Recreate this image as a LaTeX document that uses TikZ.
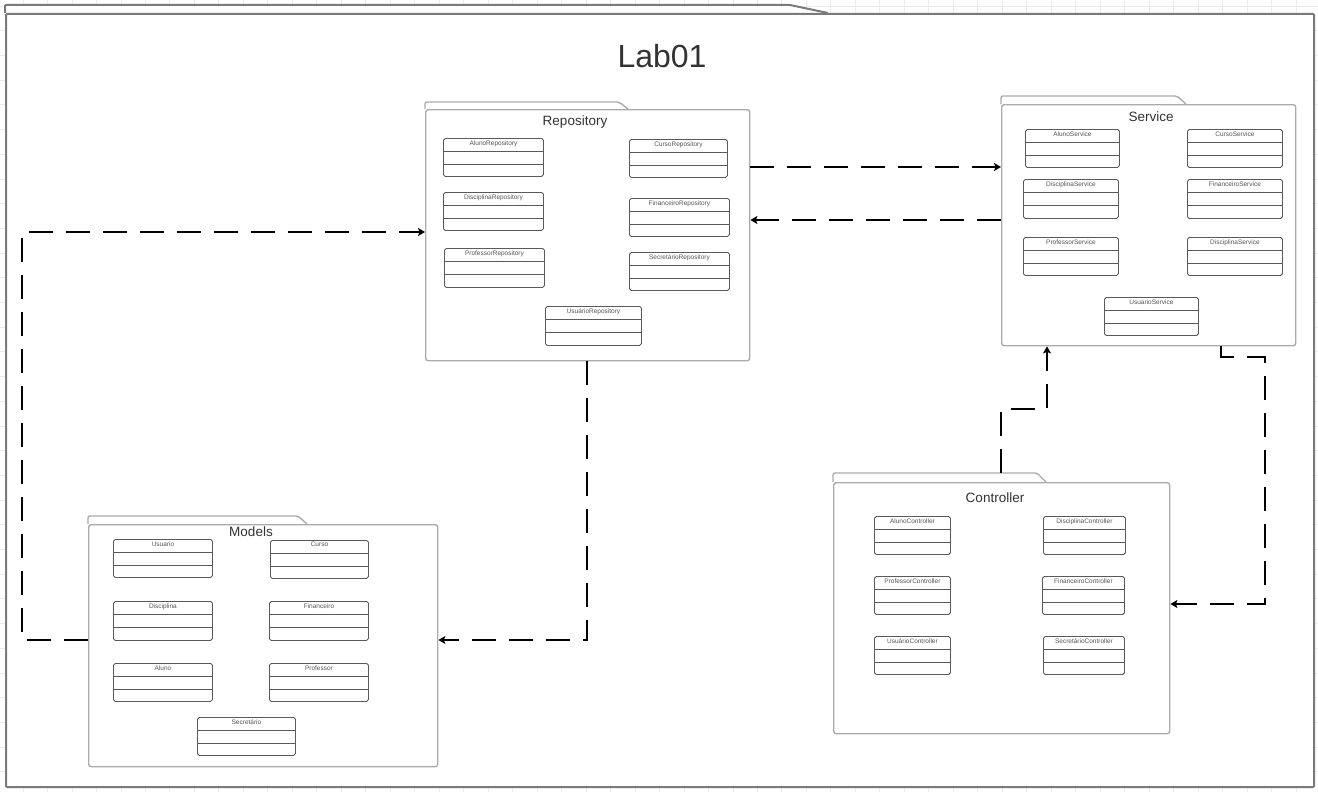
\documentclass[tikz,border=0pt]{standalone}
\usepackage{fontspec}
\setmainfont{Liberation Sans}
\usetikzlibrary{arrows.meta,calc}
\definecolor{gridc}{HTML}{EBEBEB}
\definecolor{framec}{HTML}{7A7A7A}
\definecolor{pkgc}{HTML}{ABABAB}
\definecolor{clsc}{HTML}{5A5A5A}
\definecolor{titlec}{HTML}{333333}
\definecolor{clstextc}{HTML}{555555}

\newcommand\pkgdraw[9]{% name, x1, ytab, xt, ybody, x2, y2, title, title pos
  \draw[pkgline, fill=white, rounded corners=2] (#2,#5) -- (#2,#3) -- (#4,#3) -- ({#4+9},#5);
  \node[pkgbox, minimum width={#6-#2}, minimum height={#7-#5}, anchor=north west] (#1) at (#2,#5) {};
  \coordinate (#1-tab) at (#2,#3);
  \node[pkgtitle] (#1-title) at (#9) {#8};
}
\newcommand\clsdraw[6]{% name, x1, y1, x2, y2, label
  \node[clsbox, minimum width={#4-#2}, minimum height={#5-#3}, anchor=north west] (#1) at (#2,#3) {};
  \node[clstext, anchor=north] (#1-name) at ([yshift=-2.2]#1.north) {#6};
  \draw[clsline] ([yshift=-13]#1.north west) -- ([yshift=-13]#1.north east);
  \draw[clsline] ([yshift=-26]#1.north west) -- ([yshift=-26]#1.north east);
}

\begin{document}
\begin{tikzpicture}[x=1pt,y=-1pt,
  gridline/.style={gridc, line width=0.8},
  outerbox/.style={draw=framec, line width=2, fill=white, inner sep=0, rounded corners=1},
  pkgline/.style={draw=pkgc, line width=1.4},
  pkgbox/.style={draw=pkgc, line width=1.4, fill=white, inner sep=0, rounded corners=2.5},
  pkgtitle/.style={text=titlec, font=\fontsize{13.5}{15}\selectfont, inner sep=0},
  clsbox/.style={draw=clsc, line width=0.9, fill=white, inner sep=0, rounded corners=1.8},
  clsline/.style={draw=clsc, line width=0.9},
  clstext/.style={text=clstextc, font=\fontsize{6.5}{7}\selectfont, inner sep=0},
  dep/.style={black, line width=2.4, dash pattern=on 24pt off 13pt,
    -{Stealth[length=7pt,width=8pt,inset=1.5pt]}},
]
\useasboundingbox (0,0) rectangle (1318,792);
\fill[white] (0,0) rectangle (1318,792);
\foreach \i in {-1,...,53} \draw[gridline] ({23+24.48*\i},0) -- ({23+24.48*\i},792);
\foreach \j in {0,...,32} \draw[gridline] (0,{6+24.7*\j}) -- (1318,{6+24.7*\j});

% outer frame
\draw[draw=framec, line width=2, fill=white, rounded corners=1] (5,13) -- (5,5) -- (790,5) -- (828,13);
\node[outerbox, minimum width=1308, minimum height=773, anchor=north west] (lab) at (5,13) {};
\node[text=titlec, font=\fontsize{32}{36}\selectfont, inner sep=0] (labtitle) at (662,56) {Lab01};

% Repository
\pkgdraw{repo}{425}{102}{619}{109}{749}{360}{Repository}{575,122}
\clsdraw{ar}{443}{138}{543}{176}{AlunoRepository}
\clsdraw{cr}{629}{139}{727}{177}{CursoRepository}
\clsdraw{dr}{443}{192}{543}{230}{DisciplinaRepository}
\clsdraw{fr}{629}{198}{729}{236}{FinanceiroRepository}
\clsdraw{pr}{444}{248}{544}{287}{ProfessorRepository}
\clsdraw{sr}{629}{252}{729}{290}{SecretárioRepository}
\clsdraw{ur}{545}{306}{641}{345}{UsuárioRepository}

% Service
\pkgdraw{svc}{1001}{96}{1177}{104}{1295}{345}{Service}{1151,117}
\clsdraw{as}{1025}{129}{1119}{167}{AlunoService}
\clsdraw{cs}{1187}{129}{1282}{167}{CursoService}
\clsdraw{ds}{1023}{179}{1118}{218}{DisciplinaService}
\clsdraw{fs}{1187}{179}{1282}{218}{FinanceiroService}
\clsdraw{ps}{1023}{237}{1118}{275}{ProfessorService}
\clsdraw{ds2}{1187}{237}{1282}{275}{DisciplinaService}
\clsdraw{us}{1104}{297}{1198}{335}{UsuarioService}

% Models
\pkgdraw{models}{88}{516}{298}{524}{437}{766}{Models}{251,532}
\clsdraw{mu}{113}{539}{212}{577}{Usuario}
\clsdraw{mc}{270}{540}{368}{578}{Curso}
\clsdraw{md}{113}{601}{212}{640}{Disciplina}
\clsdraw{mf}{269}{601}{368}{640}{Financeiro}
\clsdraw{ma}{113}{663}{212}{701}{Aluno}
\clsdraw{mp}{269}{663}{368}{701}{Professor}
\clsdraw{ms}{197}{717}{295}{755}{Secretário}

% Controller
\pkgdraw{ctrl}{833}{473}{1037}{482}{1169}{733}{Controller}{995,498}
\clsdraw{ac}{874}{516}{950}{554}{AlunoController}
\clsdraw{dc}{1043}{516}{1125}{554}{DisciplinaController}
\clsdraw{pc}{874}{576}{950}{614}{ProfessorController}
\clsdraw{fc}{1042}{576}{1124}{614}{FinanceiroController}
\clsdraw{uc}{874}{636}{950}{674}{UsuárioController}
\clsdraw{sc}{1043}{636}{1124}{674}{SecretárioController}

% dependencies
\draw[dep] (repo.east |- 0,167) -- (svc.west |- 0,167);
\draw[dep] (svc.west |- 0,220) -- (repo.east |- 0,220);
\coordinate (c3) at (22,232);
\draw[dep] (models.west |- 0,640) -| (c3) -- (repo.west |- c3);
\draw[dep] (repo.south -| 587,0) |- (models.east |- 0,640);
\coordinate (c5a) at (1001,409);
\coordinate (c5b) at (1047,409);
\draw[dep] (ctrl-tab -| c5a) -- (c5a) -- (c5b) -- (svc.south -| c5b);
\coordinate (c6a) at (1221,357);
\coordinate (c6b) at (1265,357);
\coordinate (c6c) at (1265,604);
\draw[dep] (svc.south -| c6a) -- (c6a) -- (c6b) -- (c6c) -- (ctrl.east |- c6c);
\end{tikzpicture}
\end{document}
